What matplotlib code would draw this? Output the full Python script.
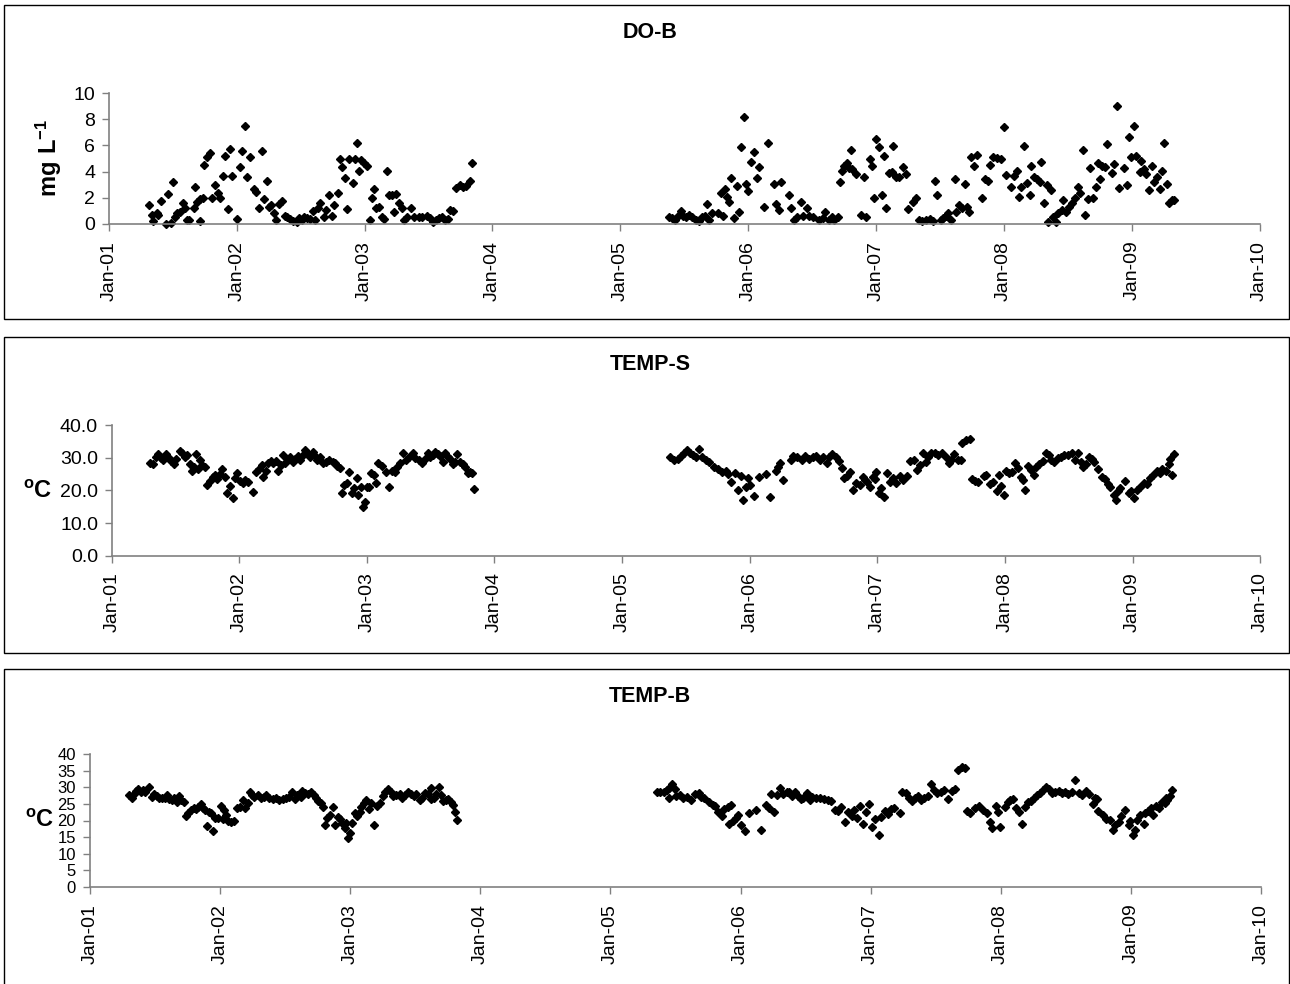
import numpy as np
import pandas as pd
import matplotlib
matplotlib.use("Agg")
import matplotlib.pyplot as plt
import matplotlib.dates as mdates
from matplotlib.patches import Rectangle

plt.rcParams['font.family'] = ['Liberation Sans', 'DejaVu Sans']
plt.rcParams['mathtext.fontset'] = 'custom'
plt.rcParams['mathtext.rm'] = 'Liberation Sans'
plt.rcParams['mathtext.bf'] = 'Liberation Sans:bold'

### data (time in years since 1 Jan 2001)
do_t = [0.313, 0.334, 0.347, 0.373, 0.386, 0.407, 0.444, 0.465, 0.483, 0.504, 0.517, 0.535, 0.556, 0.577,
        0.595, 0.614, 0.629, 0.661, 0.674, 0.692, 0.708, 0.713, 0.734, 0.747, 0.770, 0.791, 0.807, 0.830,
        0.849, 0.869, 0.890, 0.909, 0.927, 0.948, 0.961, 1.0, 1.021, 1.039, 1.065, 1.078, 1.104, 1.131,
        1.151, 1.172, 1.193, 1.209, 1.235, 1.248, 1.269, 1.287, 1.305, 1.326, 1.352, 1.373, 1.392, 1.412,
        1.439, 1.47, 1.488, 1.509, 1.527, 1.548, 1.574, 1.595, 1.614, 1.632, 1.653, 1.679, 1.700, 1.718,
        1.744, 1.757, 1.789, 1.804, 1.822, 1.843, 1.862, 1.877, 1.909, 1.927, 1.940, 1.953, 1.971, 1.992,
        2.018, 2.039, 2.057, 2.076, 2.091, 2.112, 2.136, 2.154, 2.175, 2.191, 2.214, 2.232, 2.243, 2.266,
        2.292, 2.305, 2.332, 2.363, 2.384, 2.423, 2.449, 2.488, 2.514, 2.535, 2.561, 2.580, 2.606, 2.632,
        2.653, 2.666, 2.692, 2.718, 2.744, 2.770, 2.796, 2.822, 2.843,
        4.379, 4.405, 4.428, 4.452, 4.472, 4.492, 4.515, 4.538, 4.559, 4.588, 4.617, 4.637, 4.66, 4.677,
        4.695, 4.718, 4.761, 4.790, 4.805, 4.819, 4.834, 4.851, 4.868, 4.891, 4.915, 4.929, 4.944, 4.967,
        4.984, 5.001, 5.025, 5.042, 5.065, 5.082, 5.123, 5.158, 5.198, 5.216, 5.239, 5.256, 5.32, 5.334,
        5.355, 5.378, 5.412, 5.427, 5.456, 5.476, 5.509, 5.554, 5.586, 5.603, 5.63, 5.658, 5.673, 5.702,
        5.716, 5.731, 5.751, 5.771, 5.789, 5.803, 5.812, 5.841, 5.880, 5.904, 5.925, 5.950, 5.968, 5.985,
        6.0, 6.02, 6.043, 6.061, 6.078, 6.098, 6.121, 6.136, 6.159, 6.18, 6.209, 6.233, 6.252, 6.287,
        6.31, 6.333, 6.362, 6.390, 6.425, 6.449, 6.463, 6.48, 6.506, 6.527, 6.547, 6.565, 6.584, 6.614,
        6.628, 6.651, 6.671, 6.692, 6.715, 6.73, 6.744, 6.767, 6.788, 6.831, 6.854, 6.874, 6.889, 6.918,
        6.946, 6.975, 6.998, 7.019, 7.056, 7.077, 7.106, 7.12, 7.135, 7.158, 7.178, 7.201, 7.213, 7.236,
        7.259, 7.280, 7.294, 7.317, 7.337, 7.346, 7.366, 7.381, 7.41, 7.424, 7.453, 7.462, 7.485, 7.511,
        7.532, 7.555, 7.578, 7.598, 7.619, 7.636, 7.656, 7.676, 7.694, 7.723, 7.734, 7.752, 7.771, 7.791,
        7.809, 7.844, 7.861, 7.881, 7.902, 7.942, 7.959, 7.976, 7.994, 8.017, 8.031, 8.061, 8.075, 8.098,
        8.110, 8.133, 8.156, 8.176, 8.197, 8.220, 8.240, 8.254, 8.272, 8.289, 8.312, 8.333]
do_v = [1.42, 0.69, 0.25, 0.81, 0.71, 1.73, 0.0, 2.29, 0.1, 3.23, 0.56, 0.81, 0.94, 1.58,
        1.2, 0.3, 0.3, 1.25, 2.85, 1.7, 0.25, 1.88, 1.96, 4.48, 5.09, 5.39, 1.96, 2.95,
        2.34, 1.96, 3.66, 5.19, 1.12, 5.7, 3.66, 0.41, 4.33, 5.6, 7.51, 3.61, 5.14, 2.65,
        2.47, 1.25, 5.55, 1.88, 3.26, 1.27, 1.45, 0.81, 0.3, 1.53, 1.76, 0.61, 0.51, 0.36,
        0.2, 0.15, 0.43, 0.3, 0.56, 0.43, 0.36, 1.02, 0.3, 1.2, 1.58, 0.51, 1.07, 2.21,
        0.61, 1.45, 2.34, 4.94, 4.33, 3.54, 1.12, 4.99, 3.16, 4.99, 6.16, 4.07, 4.89, 4.68,
        4.43, 0.3, 1.96, 2.70, 1.2, 1.27, 0.56, 0.36, 4.07, 2.21, 2.21, 0.94, 2.29, 1.63,
        1.2, 0.3, 0.51, 1.22, 0.51, 0.51, 0.51, 0.61, 0.43, 0.18, 0.3, 0.43, 0.56, 0.3,
        0.36, 1.07, 1.02, 2.72, 2.98, 2.85, 2.9, 3.31, 4.68,
        0.51, 0.43, 0.3, 0.61, 1.02, 0.61, 0.51, 0.69, 0.51, 0.3, 0.25, 0.51, 0.61, 1.5,
        0.3, 0.81, 0.81, 2.34, 0.61, 2.65, 2.09, 1.7, 3.54, 0.46, 2.9, 0.92, 5.9, 8.19,
        3.05, 2.52, 4.73, 5.52, 3.51, 4.33, 1.27, 6.21, 3.03, 1.53, 1.07, 3.23, 2.21, 1.2,
        0.3, 0.56, 1.68, 0.61, 1.22, 0.61, 0.51, 0.3, 0.46, 0.89, 0.3, 0.56, 0.3, 0.56,
        3.23, 4.07, 4.43, 4.68, 4.25, 5.65, 4.17, 3.82, 0.69, 3.56, 0.51, 4.96, 4.43, 1.96,
        6.46, 5.9, 2.21, 5.19, 1.2, 3.92, 4.0, 5.95, 3.56, 3.56, 4.33, 3.82, 1.12, 1.7,
        1.96, 0.3, 0.25, 0.3, 0.36, 0.2, 3.31, 2.21, 0.3, 0.43, 0.61, 0.81, 0.3, 3.44,
        0.94, 1.45, 1.2, 3.03, 1.32, 0.94, 5.09, 4.43, 5.27, 2.01, 3.41, 3.31, 4.5, 5.09,
        5.01, 4.94, 7.43, 3.74, 2.8, 3.66, 4.07, 2.09, 2.8, 5.95, 3.16, 2.21, 4.43, 3.61,
        3.41, 3.23, 4.76, 1.58, 2.98, 0.18, 2.6, 0.56, 0.18, 0.81, 1.07, 1.83, 0.94, 1.32,
        1.63, 1.96, 2.8, 2.34, 5.65, 0.69, 1.88, 4.25, 1.96, 2.8, 4.68, 3.41, 4.43, 4.33,
        6.11, 3.92, 4.58, 9.01, 2.72, 4.25, 2.98, 6.67, 5.14, 7.48, 5.19, 4.0, 4.83, 4.17,
        3.82, 2.6, 4.43, 3.23, 3.61, 2.65, 4.07, 6.21, 3.05, 1.63, 1.83, 1.83]

temps_t = [0.301, 0.322, 0.343, 0.361, 0.382, 0.401, 0.427, 0.448, 0.466, 0.484, 0.505, 0.531, 0.552,
           0.571, 0.589, 0.610, 0.626, 0.644, 0.657, 0.673, 0.688, 0.704, 0.728, 0.746, 0.767, 0.788,
           0.806, 0.825, 0.846, 0.866, 0.885, 0.903, 0.924, 0.945, 0.961, 0.982, 1.003, 1.024, 1.042,
           1.068, 1.102, 1.128, 1.154, 1.173, 1.186, 1.207, 1.225, 1.243, 1.264, 1.285, 1.304, 1.322,
           1.343, 1.359, 1.374, 1.395, 1.416, 1.437, 1.458, 1.474, 1.495, 1.513, 1.531, 1.552, 1.573,
           1.592, 1.610, 1.631, 1.652, 1.678, 1.704, 1.730, 1.749, 1.767, 1.788, 1.801, 1.819, 1.840,
           1.861, 1.880, 1.898, 1.919, 1.932, 1.950, 1.971, 1.987, 1.997, 2.018, 2.034, 2.050, 2.071,
           2.089, 2.115, 2.149, 2.175, 2.194, 2.220, 2.238, 2.259, 2.285, 2.306, 2.325, 2.359, 2.377,
           2.403, 2.429, 2.455, 2.474, 2.495, 2.516, 2.534, 2.552, 2.573, 2.594, 2.613, 2.631, 2.652,
           2.673, 2.691, 2.704, 2.725, 2.751, 2.770, 2.788, 2.809, 2.822, 2.840,
           4.377, 4.406, 4.435, 4.464, 4.484, 4.507, 4.530, 4.551, 4.580, 4.6, 4.629, 4.658, 4.681,
           4.716, 4.754, 4.783, 4.812, 4.832, 4.855, 4.884, 4.907, 4.928, 4.948, 4.971, 4.986, 5.0,
           5.035, 5.072, 5.125, 5.159, 5.203, 5.217, 5.238, 5.261, 5.319, 5.342, 5.371, 5.406, 5.435,
           5.464, 5.493, 5.522, 5.551, 5.574, 5.603, 5.623, 5.643, 5.672, 5.696, 5.719, 5.739, 5.759,
           5.788, 5.812, 5.835, 5.864, 5.884, 5.899, 5.922, 5.945, 5.962, 5.980, 5.991, 6.009, 6.032,
           6.049, 6.072, 6.101, 6.125, 6.145, 6.174, 6.203, 6.232, 6.252, 6.29, 6.310, 6.333, 6.357,
           6.380, 6.397, 6.420, 6.449, 6.478, 6.507, 6.536, 6.559, 6.580, 6.6, 6.629, 6.652, 6.667,
           6.696, 6.725, 6.739, 6.762, 6.791, 6.832, 6.855, 6.884, 6.907, 6.936, 6.957, 6.971, 6.994,
           7.006, 7.035, 7.058, 7.081, 7.101, 7.122, 7.138, 7.158, 7.180, 7.203, 7.226, 7.246, 7.267,
           7.296, 7.319, 7.342, 7.362, 7.383, 7.412, 7.441, 7.464, 7.493, 7.522, 7.551, 7.574, 7.594,
           7.614, 7.638, 7.661, 7.681, 7.701, 7.730, 7.757, 7.783, 7.806, 7.826, 7.855, 7.870, 7.884,
           7.904, 7.942, 7.971, 7.991, 8.014, 8.038, 8.058, 8.087, 8.116, 8.136, 8.159, 8.188, 8.212,
           8.232, 8.261, 8.283, 8.296, 8.307, 8.322]
temps_v = [28.3, 28.1, 30.1, 31.1, 29.8, 29.3, 31.1, 30.0, 29.1, 28.1, 29.5, 32.1, 31.3,
           30.3, 30.8, 28.1, 26.0, 27.2, 31.0, 26.4, 29.3, 27.8, 27.0, 21.6, 23.0, 24.0,
           24.7, 23.4, 25.0, 26.4, 24.2, 19.3, 21.3, 17.6, 23.7, 25.4, 23.0, 22.1, 23.2,
           22.7, 19.6, 25.7, 26.4, 27.8, 24.2, 26.0, 28.5, 29.1, 28.3, 29.1, 26.0, 27.8,
           30.8, 28.3, 29.5, 30.1, 28.8, 29.5, 30.5, 29.3, 30.8, 32.3, 31.5, 30.3, 31.8,
           30.5, 29.3, 30.1, 28.3, 28.8, 29.3, 28.8, 28.3, 27.4, 26.7, 19.3, 21.6, 22.3,
           25.7, 19.3, 20.6, 23.7, 18.6, 21.1, 15.0, 16.5, 21.1, 20.9, 25.2, 24.7, 22.1,
           28.3, 27.4, 25.7, 21.1, 26.0, 25.7, 27.2, 28.5, 31.5, 29.3, 30.3, 31.5, 29.8,
           29.3, 28.5, 29.5, 31.5, 30.3, 30.8, 31.8, 31.1, 30.5, 28.8, 31.5, 30.3, 29.5,
           28.1, 28.8, 31.1, 28.8, 28.1, 27.0, 25.4, 25.7, 25.4, 20.3,
           30.1, 29.3, 29.5, 30.5, 31.5, 32.3, 31.5, 30.8, 30.3, 32.6, 30.1, 29.3, 28.8,
           27.2, 26.4, 25.7, 26.0, 25.0, 22.7, 25.2, 20.1, 24.4, 17.0, 20.9, 23.7, 21.6,
           18.3, 24.0, 25.0, 17.9, 26.0, 27.0, 28.3, 23.2, 29.3, 30.5, 30.3, 29.3, 30.5,
           29.5, 30.3, 30.5, 29.3, 30.3, 28.3, 30.3, 31.1, 30.3, 29.1, 26.7, 23.7, 24.4,
           25.7, 20.1, 22.3, 21.6, 24.2, 23.2, 22.7, 20.9, 24.2, 23.4, 25.7, 19.3, 20.6,
           17.9, 25.2, 22.7, 23.7, 22.1, 24.4, 23.2, 24.4, 29.1, 29.3, 26.2, 27.8, 31.3,
           28.8, 30.3, 31.3, 31.3, 30.8, 31.3, 30.3, 28.3, 29.3, 31.1, 29.3, 29.3, 34.4,
           35.4, 35.6, 23.4, 23.0, 22.7, 24.4, 24.7, 21.9, 22.7, 19.9, 24.7, 21.3, 18.6,
           26.0, 25.4, 25.7, 28.5, 26.7, 24.2, 23.2, 20.1, 27.4, 26.2, 24.7, 27.2, 28.1,
           29.1, 31.3, 30.8, 29.3, 28.8, 29.8, 30.3, 30.8, 30.8, 31.3, 29.3, 31.5, 28.8,
           27.2, 28.1, 30.3, 29.5, 28.8, 26.4, 24.2, 23.4, 21.9, 21.1, 18.6, 17.0, 19.9,
           20.6, 23.0, 19.3, 19.9, 17.6, 20.1, 20.9, 22.3, 21.9, 23.7, 24.7, 26.0, 25.2,
           26.4, 26.0, 28.1, 29.5, 24.7, 31.1]

tempb_t = [0.303, 0.321, 0.336, 0.354, 0.372, 0.392, 0.405, 0.423, 0.456, 0.474, 0.490, 0.515, 0.533,
           0.551, 0.577, 0.592, 0.610, 0.628, 0.649, 0.669, 0.687, 0.700, 0.726, 0.738, 0.756, 0.777,
           0.797, 0.815, 0.833, 0.854, 0.867, 0.885, 0.900, 0.918, 0.931, 0.944, 0.962, 0.982, 1.003,
           1.021, 1.033, 1.046, 1.064, 1.085, 1.105, 1.131, 1.156, 1.174, 1.192, 1.213, 1.228, 1.244,
           1.264, 1.290, 1.315, 1.336, 1.354, 1.379, 1.405, 1.431, 1.456, 1.482, 1.508, 1.533, 1.551,
           1.572, 1.592, 1.618, 1.628, 1.654, 1.679, 1.700, 1.721, 1.738, 1.756, 1.777, 1.790, 1.803,
           1.823, 1.841, 1.867, 1.885, 1.905, 1.918, 1.936, 1.956, 1.969, 1.982, 1.995, 2.013, 2.033,
           2.054, 2.072, 2.085, 2.105, 2.123, 2.141, 2.162, 2.182, 2.208, 2.226, 2.251, 2.269, 2.290,
           2.310, 2.328, 2.354, 2.379, 2.397, 2.418, 2.444, 2.464, 2.490, 2.508, 2.533, 2.551, 2.572,
           2.597, 2.618, 2.623, 2.644, 2.662, 2.679, 2.700, 2.713, 2.738, 2.751, 2.772, 2.790, 2.808,
           2.823,
           4.359, 4.383, 4.412, 4.433, 4.447, 4.453, 4.471, 4.492, 4.506, 4.536, 4.559, 4.589, 4.618,
           4.648, 4.677, 4.698, 4.718, 4.756, 4.786, 4.807, 4.830, 4.854, 4.874, 4.904, 4.912, 4.924,
           4.942, 4.962, 4.983, 5.001, 5.030, 5.066, 5.118, 5.154, 5.198, 5.219, 5.236, 5.257, 5.277,
           5.301, 5.324, 5.354, 5.374, 5.395, 5.419, 5.442, 5.463, 5.483, 5.507, 5.530, 5.551, 5.581,
           5.610, 5.639, 5.669, 5.698, 5.728, 5.746, 5.769, 5.801, 5.825, 5.854, 5.875, 5.895, 5.919,
           5.943, 5.963, 5.984, 6.013, 6.031, 6.060, 6.081, 6.110, 6.131, 6.154, 6.178, 6.228, 6.243,
           6.272, 6.296, 6.316, 6.337, 6.360, 6.384, 6.413, 6.443, 6.463, 6.484, 6.508, 6.537, 6.566,
           6.596, 6.625, 6.649, 6.670, 6.699, 6.728, 6.737, 6.766, 6.802, 6.831, 6.861, 6.890, 6.920,
           6.934, 6.964, 6.979, 6.993, 7.032, 7.052, 7.073, 7.096, 7.120, 7.140, 7.161, 7.185, 7.208,
           7.229, 7.258, 7.279, 7.302, 7.326, 7.346, 7.367, 7.391, 7.414, 7.444, 7.473, 7.494, 7.517,
           7.544, 7.573, 7.597, 7.620, 7.656, 7.679, 7.709, 7.720, 7.738, 7.750, 7.788, 7.809, 7.838,
           7.862, 7.876, 7.906, 7.926, 7.956, 7.985, 7.994, 8.015, 8.032, 8.044, 8.073, 8.097, 8.111,
           8.132, 8.156, 8.170, 8.191, 8.214, 8.238, 8.258, 8.273, 8.279, 8.297, 8.318]
tempb_v = [27.7, 26.9, 27.9, 28.9, 29.5, 28.5, 29.2, 28.7, 30.2, 27.2, 27.9, 27.5, 26.9,
           26.7, 26.7, 27.7, 26.5, 26.2, 26.7, 25.7, 27.5, 26.2, 25.7, 21.5, 22.2, 23.2,
           23.9, 23.5, 24.2, 24.9, 23.7, 23.2, 18.2, 22.7, 22.2, 16.9, 20.9, 20.7, 24.5,
           20.5, 23.2, 21.7, 19.7, 19.5, 19.7, 23.9, 24.2, 26.2, 23.7, 25.2, 28.7, 27.7,
           27.2, 27.7, 26.7, 27.2, 27.7, 26.7, 26.5, 26.7, 26.2, 26.5, 26.9, 27.2, 28.7,
           26.5, 27.7, 27.2, 28.9, 28.2, 27.9, 28.7, 27.7, 26.9, 25.9, 25.2, 24.2, 18.7,
           20.9, 21.7, 24.2, 18.7, 21.2, 20.5, 19.2, 17.7, 19.2, 14.7, 16.2, 19.2, 22.2,
           21.5, 22.7, 24.2, 25.2, 26.2, 23.5, 25.2, 18.5, 24.5, 25.2, 27.5, 28.5, 29.5,
           28.7, 27.5, 27.7, 27.9, 26.9, 27.7, 28.7, 27.9, 27.5, 27.9, 26.2, 26.9, 28.2,
           27.9, 26.5, 29.7, 26.9, 27.9, 30.2, 27.7, 25.9, 26.2, 26.5, 25.7, 24.7, 22.7,
           20.2,
           28.7, 28.5, 28.7, 29.2, 29.9, 26.9, 30.9, 29.5, 27.5, 27.7, 26.9, 27.2, 26.2,
           27.9, 28.2, 27.2, 26.7, 25.7, 24.7, 24.5, 22.7, 21.5, 23.5, 24.2, 18.9, 24.7,
           19.7, 20.9, 21.7, 18.5, 16.7, 22.2, 23.2, 17.2, 24.7, 23.7, 27.9, 22.7, 27.7,
           29.7, 27.9, 28.7, 28.7, 27.5, 28.5, 27.5, 26.5, 26.7, 28.2, 26.2, 27.2, 26.7,
           26.7, 26.5, 26.2, 25.9, 23.2, 22.9, 24.2, 19.5, 22.5, 21.5, 23.2, 20.9, 24.5,
           18.9, 22.7, 24.9, 17.9, 20.5, 15.7, 21.2, 22.9, 21.9, 23.5, 23.9, 22.2, 28.7,
           28.2, 26.9, 25.9, 26.7, 27.5, 26.2, 26.9, 27.5, 30.9, 29.2, 28.2, 28.5, 29.2,
           26.5, 28.9, 29.5, 35.2, 36.2, 35.9, 22.9, 22.2, 23.9, 24.5, 23.2, 22.2, 19.5,
           17.7, 24.5, 22.7, 17.9, 24.2, 25.5, 26.2, 26.5, 23.7, 22.7, 18.9, 24.2, 25.5,
           25.9, 26.9, 27.7, 28.2, 29.2, 30.2, 29.5, 28.2, 28.7, 28.9, 28.2, 28.7, 27.9,
           28.5, 32.2, 28.2, 27.7, 28.9, 27.9, 24.9, 26.9, 26.5, 22.9, 21.7, 20.5, 20.2,
           17.2, 18.7, 19.5, 21.5, 23.2, 18.5, 19.9, 15.7, 17.2, 20.2, 21.7, 18.9, 22.2,
           22.9, 23.7, 21.7, 24.5, 23.9, 25.7, 25.2, 26.7, 26.2, 27.5, 29.2]

titles = ['DO-B', 'TEMP-S', 'TEMP-B']
ylabels = [r'$\mathbf{mg\ L^{-1}}$', r'$\mathbf{^{o}C}$', r'$\mathbf{^{o}C}$']
yticks = [np.arange(0, 11, 2), np.arange(0, 41, 10), np.arange(0, 41, 5)]
ytick_fmt = ['{:.0f}', '{:.1f}', '{:.0f}']

start = pd.Timestamp('2001-01-01')
def to_dates(t):
    return [start + pd.Timedelta(days=x * 365.25) for x in t]

W, H = 1290, 984
fig = plt.figure(figsize=(W / 100, H / 100), dpi=100)

# panel boxes (pixels): x0, top, x1, bottom
boxes = [(4, 5, 1289, 319), (4, 337, 1289, 653), (4, 669, 1289, 995)]
for x0, y0, x1, y1 in boxes:
    fig.patches.append(Rectangle((x0 / W, 1 - y1 / H), (x1 - x0) / W, (y1 - y0) / H,
                                 transform=fig.transFigure, fill=False, ec='black', lw=1.0))

# axes (pixels): left, right, top, bottom
axpos = [(109, 1259.5, 93, 224), (112, 1260, 425, 555.7), (90, 1261, 754, 887)]
title_y = [33, 364, 696]
ylab_pos = [(49, 158), (38, 492), (40, 821)]
series = [(do_t, do_v), (temps_t, temps_v), (tempb_t, tempb_v)]
ytick_size = [14, 14, 12]

for i in range(3):
    l, r, t, b = axpos[i]
    ax = fig.add_axes([l / W, 1 - b / H, (r - l) / W, (b - t) / H])
    tt, vv = series[i]
    ax.plot(to_dates(tt), vv, linestyle='none', marker='D', ms=3.7, color='black', mec='black')
    ax.set_xlim(pd.Timestamp('2001-01-01'), pd.Timestamp('2010-01-01'))
    ax.set_ylim(yticks[i][0], yticks[i][-1])
    ax.set_yticks(yticks[i])
    ax.set_yticklabels([ytick_fmt[i].format(v) for v in yticks[i]])
    ax.xaxis.set_major_locator(mdates.YearLocator())
    ax.xaxis.set_major_formatter(mdates.DateFormatter('%b-%y'))
    for s in ['top', 'right']:
        ax.spines[s].set_visible(False)
    for s in ['left', 'bottom']:
        ax.spines[s].set_color('#808080')
        ax.spines[s].set_linewidth(1.2)
    ax.tick_params(direction='out', length=5, width=1.0, color='#808080')
    ax.tick_params(axis='y', labelsize=ytick_size[i], pad=5)
    ax.tick_params(axis='x', labelsize=14, labelrotation=90, pad=7)
    ax.patch.set_alpha(0)
    for line in ax.lines:
        line.set_clip_on(False)

    fig.text(650 / W, 1 - title_y[i] / H, titles[i], ha='center', va='center',
             fontsize=15.5, fontweight='bold')
    fig.text(ylab_pos[i][0] / W, 1 - ylab_pos[i][1] / H, ylabels[i], ha='center', va='center',
             fontsize=17, rotation=90 if i == 0 else 0)

plt.savefig('out.png', dpi=100)
